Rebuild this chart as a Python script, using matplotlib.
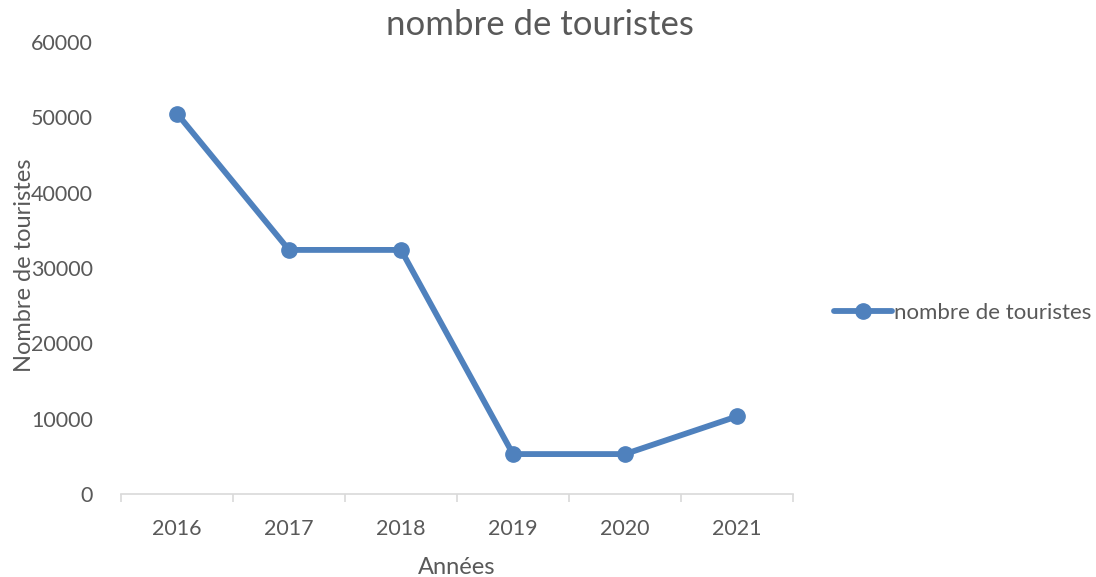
import matplotlib
matplotlib.use("Agg")
import matplotlib.pyplot as plt
import numpy as np

years = ["2016", "2017", "2018", "2019", "2020", "2021"]
tourists = [50500, 32400, 32400, 5300, 5300, 10300]
yticks = [0, 10000, 20000, 30000, 40000, 50000, 60000]

plt.rcParams['font.family'] = ['Lato', 'DejaVu Sans']
gray = '#595959'
blue = '#4F81BD'

fig = plt.figure(figsize=(10.96, 5.77), dpi=100)
ax = fig.add_axes([121/1096, 1-494/577, (793-121)/1096, (494-42)/577])

x = np.arange(len(years))
ax.plot(x, tourists, color=blue, lw=4.2, marker='o', ms=11, label='nombre de touristes',
        solid_capstyle='round')

ax.set_xlim(-0.5, len(years)-0.5)
ax.set_ylim(0, 60000)
ax.set_xticks(x)
ax.set_xticklabels(years)
ax.set_xticks(np.arange(-0.5, len(years), 1.0), minor=True)
ax.tick_params(axis='x', which='major', length=0, pad=18, labelsize=15.5, labelcolor=gray)
ax.tick_params(axis='x', which='minor', length=6, color='#D9D9D9', width=1.2)
ax.set_yticks(yticks)
ax.set_yticklabels([str(v) for v in yticks])
ax.tick_params(axis='y', length=0, pad=20, labelsize=15.5, labelcolor=gray)

for s in ['top', 'right', 'left']:
    ax.spines[s].set_visible(False)
ax.spines['bottom'].set_color('#D9D9D9')
ax.spines['bottom'].set_linewidth(1.2)

ax.set_xlabel('Années', fontsize=17, color=gray)
ax.set_ylabel('Nombre de touristes', fontsize=17, color=gray)
ax.xaxis.set_label_coords(0.5, (494-568)/452)
ax.xaxis.label.set_va('center')
ax.yaxis.set_label_coords((25-121)/672, (494-265)/452)
ax.yaxis.label.set_va('center')

fig.text(540/1096, 1-25/577, 'nombre de touristes', ha='center', va='center',
         fontsize=25, color=gray)

leg = ax.legend(loc='center left', bbox_to_anchor=(823/1096, 1-313/577),
                bbox_transform=fig.transFigure, frameon=False, fontsize=16,
                handlelength=2.6, handletextpad=0.1, borderpad=0)
for t in leg.get_texts():
    t.set_color(gray)

fig.savefig('out.png', dpi=100)
